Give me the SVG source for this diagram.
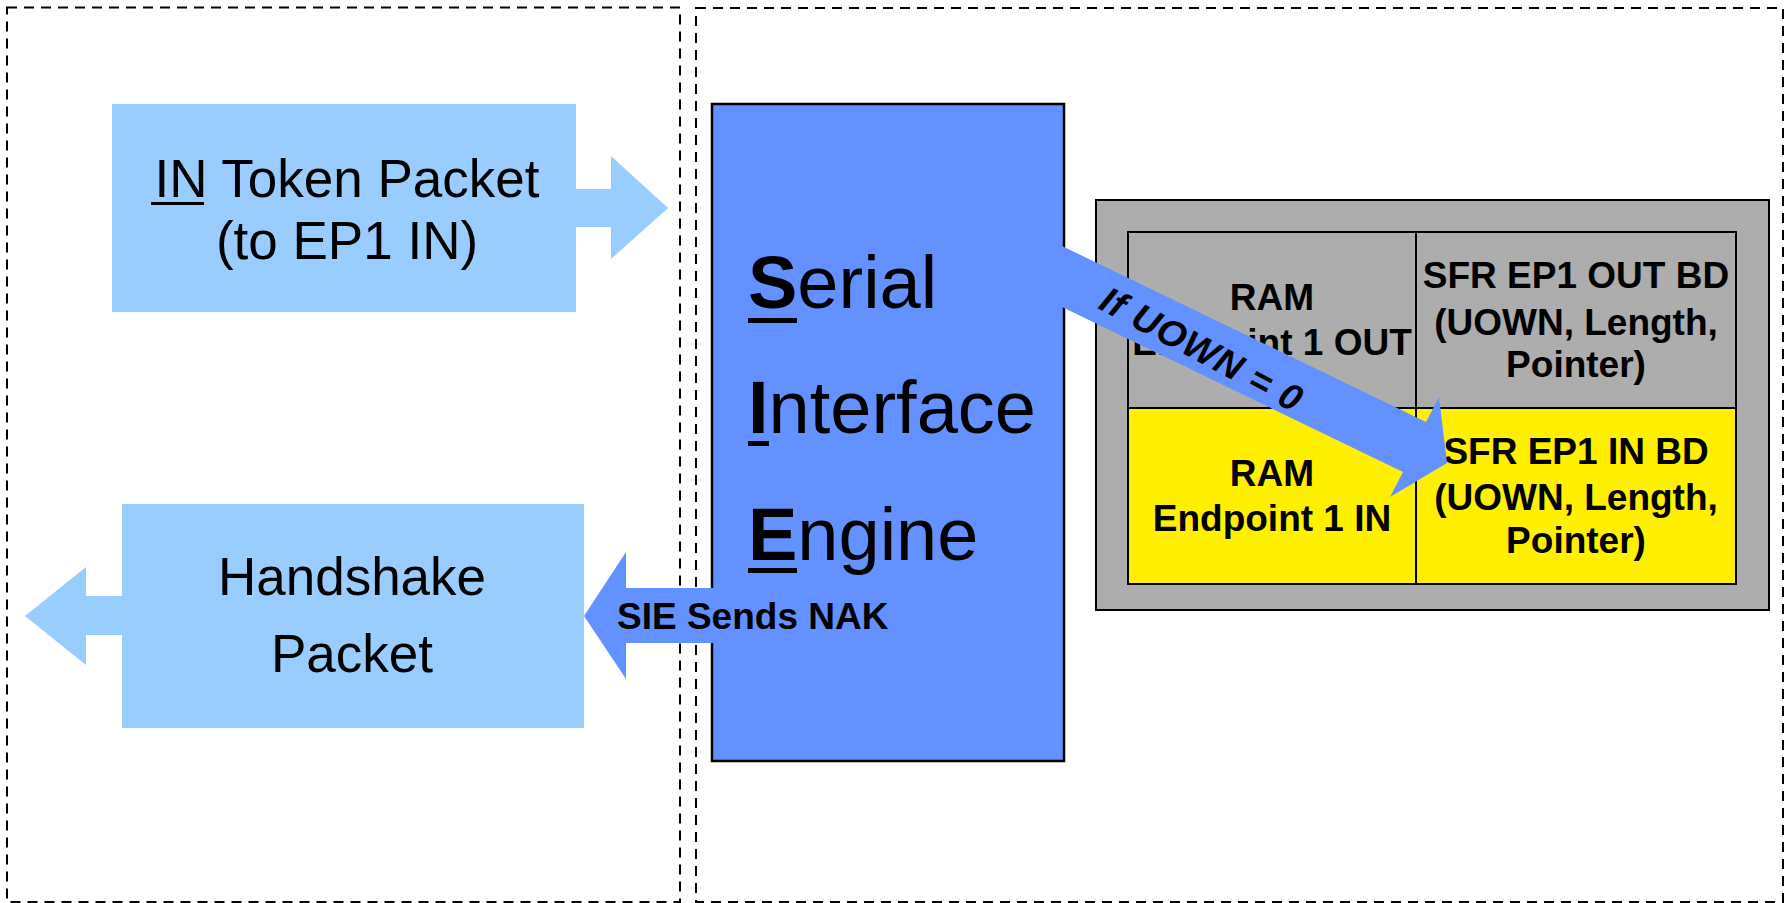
<svg xmlns="http://www.w3.org/2000/svg" width="1791" height="903" viewBox="0 0 1791 903">
<style>
text{font-family:"Liberation Sans",Arial,Helvetica,sans-serif;fill:#000}
.frame{fill:none;stroke:#000;stroke-width:2;stroke-dasharray:10 7}
.pkt{fill:#99CCFF}
.blue{fill:#6391FF}
.big{font-size:53px;text-anchor:middle}
.sie{font-size:74px}
.cell{font-size:37px;font-weight:bold;text-anchor:middle}
.lbl{font-size:37px;font-weight:bold}
.ul{fill:#000}
</style>
<rect fill="#fff" x="0" y="0" width="1791" height="903"/>
<g id="frames">
<rect class="frame" x="7" y="7.5" width="673" height="894.5"/>
<rect class="frame" x="696" y="8" width="1087" height="894"/>
</g>
<g id="in-token">
<rect class="pkt" x="112" y="104" width="464" height="208"/>
<polygon class="pkt" points="575,189 611,189 611,156 668,208 611,259 611,227 575,227"/>
<text class="big" x="347" y="197">IN Token Packet</text>
<rect class="ul" x="151" y="202" width="53" height="3"/>
<text class="big" x="347" y="259">(to EP1 IN)</text>
</g>
<g id="handshake">
<rect class="pkt" x="122" y="504" width="462" height="224"/>
<polygon class="pkt" points="123,596 86,596 86,567 25,616 86,665 86,635 123,635"/>
<text class="big" x="352" y="595">Handshake</text>
<text class="big" x="352" y="672">Packet</text>
</g>
<g id="sie">
<rect class="blue" x="712" y="104" width="352" height="657" stroke="#000" stroke-width="2.5"/>
<text class="sie" x="748" y="308"><tspan font-weight="bold">S</tspan>erial</text>
<rect class="ul" x="748" y="318" width="49" height="5"/>
<text class="sie" x="748" y="433"><tspan font-weight="bold">I</tspan>nterface</text>
<rect class="ul" x="748" y="441" width="21" height="5"/>
<text class="sie" x="748" y="560"><tspan font-weight="bold">E</tspan>ngine</text>
<rect class="ul" x="748" y="568" width="49" height="5"/>
</g>
<g id="buffer">
<rect x="1096" y="200" width="673" height="410" fill="#ADADAD" stroke="#000" stroke-width="2"/>
<rect x="1128" y="232" width="608" height="176" fill="#ADADAD"/>
<rect x="1128" y="408" width="608" height="176" fill="#FFEF00"/>
<rect x="1128" y="232" width="608" height="352" fill="none" stroke="#000" stroke-width="2"/>
<line x1="1416" y1="232" x2="1416" y2="584" stroke="#000" stroke-width="2"/>
<line x1="1128" y1="408" x2="1736" y2="408" stroke="#000" stroke-width="2"/>
<text class="cell" x="1272" y="310">RAM</text>
<text class="cell" x="1272" y="355">Endpoint 1 OUT</text>
<text class="cell" x="1576" y="288">SFR EP1 OUT BD</text>
<text class="cell" x="1576" y="335">(UOWN, Length,</text>
<text class="cell" x="1576" y="377">Pointer)</text>
<text class="cell" x="1272" y="486">RAM</text>
<text class="cell" x="1272" y="531">Endpoint 1 IN</text>
<text class="cell" x="1576" y="464">SFR EP1 IN BD</text>
<text class="cell" x="1576" y="510">(UOWN, Length,</text>
<text class="cell" x="1576" y="553">Pointer)</text>
</g>
<g id="connectors">
<polygon class="blue" points="1062,246 1426,422 1439,397 1447,463 1390,497 1403,472 1062,307"/>
<text class="lbl" font-style="italic" font-size="47" letter-spacing="1" transform="translate(1097,308) rotate(28)">If UOWN = 0</text>
<polygon class="blue" points="714,588 626,588 626,552 584,616 626,679 626,643 714,643"/>
<text class="lbl" x="617" y="629">SIE Sends NAK</text>
</g>
</svg>
